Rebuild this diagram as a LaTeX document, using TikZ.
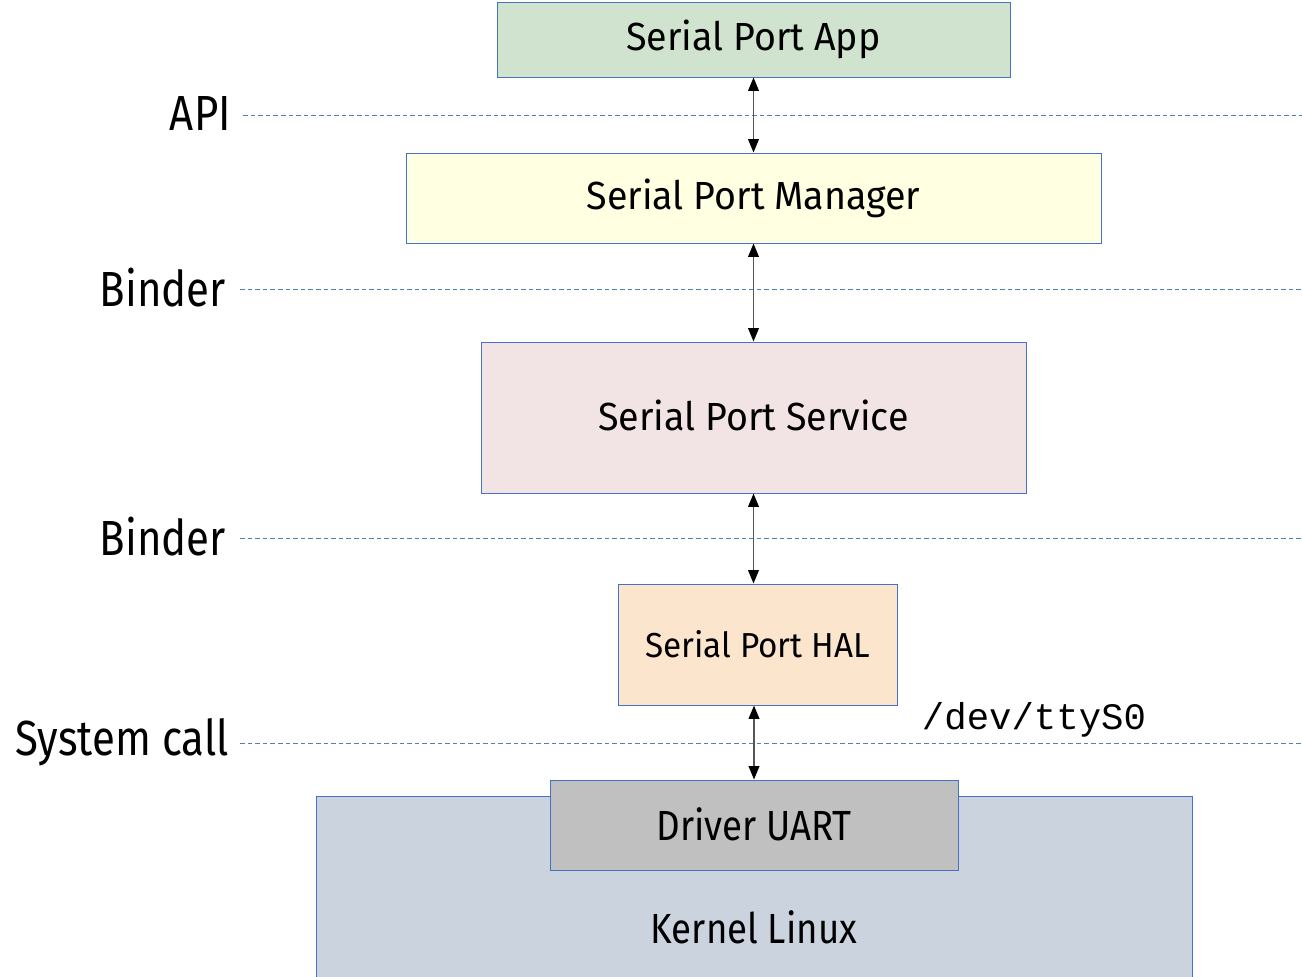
\documentclass[tikz,border=0pt]{standalone}
\usepackage{fontspec}
\setmainfont{Fira Sans}[FakeStretch=0.96]
\newfontfamily\labfont{Fira Sans}[FakeStretch=0.85]
\newfontfamily\krnfont{Fira Sans}[FakeStretch=0.87]
\setmonofont{Liberation Mono}
\usetikzlibrary{arrows.meta}
\definecolor{edge}{RGB}{68,114,196}
\definecolor{appfill}{RGB}{207,227,207}
\definecolor{mgrfill}{RGB}{255,255,226}
\definecolor{svcfill}{RGB}{242,228,228}
\definecolor{halfill}{RGB}{252,229,205}
\definecolor{drvfill}{RGB}{192,192,192}
\definecolor{krnfill}{RGB}{203,211,223}
\definecolor{sep}{RGB}{79,129,189}
\definecolor{link}{RGB}{85,85,85}
\tikzset{
  block/.style={draw=edge, line width=0.75pt, inner sep=0pt, text=black},
  big/.style={font=\fontsize{29.4}{34}\selectfont},
  small/.style={font=\fontsize{26}{30}\selectfont},
  kern/.style={font=\krnfont\fontsize{31.6}{36}\selectfont},
  layer/.style={font=\labfont\fontsize{37}{42}\selectfont, anchor=east, inner sep=0pt},
  sepline/.style={draw=sep, line width=0.75pt, dash pattern=on 3.5pt off 2.2pt},
  link/.style={draw=link, line width=1.1pt, {Triangle[length=10pt,width=8pt]}-{Triangle[length=10pt,width=8pt]}, arrows={[color=black]}}
}
\begin{document}
\begin{tikzpicture}[x=0.75pt, y=-0.75pt]
\clip (0,0) rectangle (1302,976);
\fill[white] (0,0) rectangle (1302,976);

% layer boxes
\node[block, big, fill=appfill, minimum width=384.75pt, minimum height=56.25pt] (app) at (753.5,39.5) {Serial Port App};
\node[block, big, fill=mgrfill, minimum width=521.25pt, minimum height=67.5pt] (mgr) at (753.5,198) {Serial Port Manager};
\node[block, big, fill=svcfill, minimum width=408.75pt, minimum height=113.25pt] (svc) at (753.5,417.5) {\raisebox{3pt}{Serial Port Service}};
\node[block, small, fill=halfill, minimum width=209.25pt, minimum height=90.75pt] (hal) at (757.5,644.5) {\raisebox{1.5pt}{Serial Port HAL}};
\node[block, kern, fill=krnfill, minimum width=657pt, minimum height=196.5pt] (krn) at (754,927) {Kernel Linux};
\node[block, kern, fill=drvfill, minimum width=306pt, minimum height=67.5pt] (drv) at (754,825) {\raisebox{2pt}{Driver UART}};

% interface separators
\node[layer] (api) at (231,113) {API};
\node[layer] (bnd1) at (226,288) {Binder};
\node[layer] (bnd2) at (226,537) {Binder};
\node[layer] (sys) at (229,742) {System call};
\coordinate (apiL) at (243,115);   \coordinate (apiR) at (1302,115);
\coordinate (bnd1L) at (240,289);  \coordinate (bnd1R) at (1302,289);
\coordinate (bnd2L) at (240,538);  \coordinate (bnd2R) at (1302,538);
\coordinate (sysL) at (240,743);   \coordinate (sysR) at (1302,743);
\path[sepline] (apiL) -- (apiR);
\path[sepline] (bnd1L) -- (bnd1R);
\path[sepline] (bnd2L) -- (bnd2R);
\path[sepline] (sysL) -- (sysR);

\node[font=\ttfamily\fontsize{28}{31}\selectfont, inner sep=0pt] (tty) at (1034,720) {/dev/ttyS0};

% calls between layers
\path[link] (app.south) -- (mgr.north);
\path[link] (mgr.south) -- (svc.north);
\path[link] (svc.south) -- (svc.south |- hal.north);
\path[link] (hal.south -| drv.north) -- (drv.north);
\end{tikzpicture}
\end{document}
